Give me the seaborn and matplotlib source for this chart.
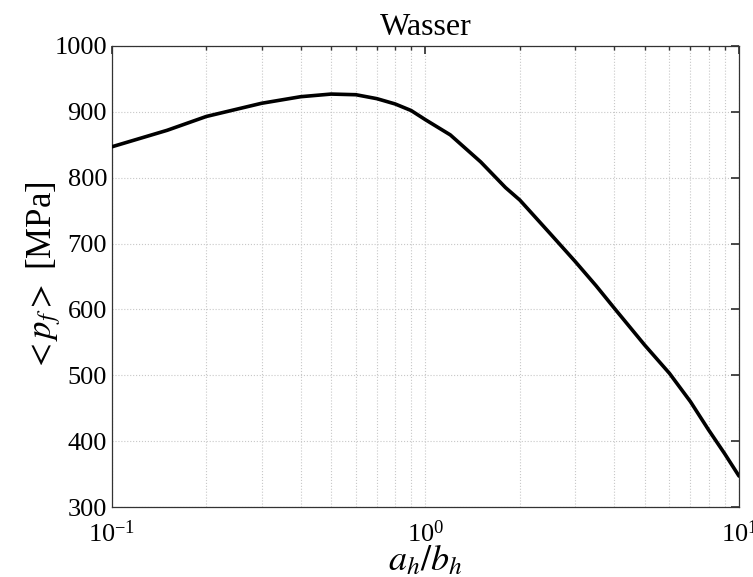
import matplotlib
matplotlib.use("Agg")
import matplotlib.pyplot as plt
import seaborn as sns
import pandas as pd
from matplotlib.ticker import LogLocator, FixedLocator, NullFormatter

# Aspect ratio a_h/b_h and mean pressure <p_f> in MPa
ratio = [0.1, 0.15, 0.2, 0.3, 0.4, 0.5, 0.6, 0.7, 0.8, 0.9, 1.0,
         1.2, 1.5, 1.8, 2.0, 2.5, 3.0, 3.5, 4.0, 5.0, 6.0, 7.0, 8.0, 9.0, 10.0]
pressure = [847, 872, 893, 913, 923, 927, 926, 920, 912, 902, 888,
            865, 824, 785, 766, 715, 673, 636, 602, 546, 503, 460, 417, 381, 347]

y_ticks = [300, 400, 500, 600, 700, 800, 900, 1000]

sns.set_theme(style="white")
plt.rcParams["font.family"] = ["Liberation Serif", "DejaVu Serif"]
plt.rcParams["mathtext.fontset"] = "stix"

df = pd.DataFrame({"ratio": ratio, "pressure": pressure})

fig = plt.figure(figsize=(7.53, 5.77), dpi=100)
ax = fig.add_axes([0.1487, 0.1213, 0.8327, 0.7990])

sns.lineplot(data=df, x="ratio", y="pressure", ax=ax, color="black",
             linewidth=2.6, zorder=3)

ax.set_xscale("log")
ax.set_xlim(0.1, 10)
ax.set_ylim(300, 1000)
ax.yaxis.set_major_locator(FixedLocator(y_ticks))
ax.xaxis.set_major_locator(LogLocator(base=10, numticks=10))
ax.xaxis.set_minor_locator(LogLocator(base=10, subs=range(2, 10), numticks=20))
ax.xaxis.set_minor_formatter(NullFormatter())

ax.grid(True, which="major", axis="both", color="#c8c8c8", linestyle=":", linewidth=0.8)
ax.grid(True, which="minor", axis="x", color="#c8c8c8", linestyle=":", linewidth=0.8)

for s in ax.spines.values():
    s.set_color("#333333")
    s.set_linewidth(0.9)

ax.tick_params(axis="both", which="both", direction="in", top=True, right=True,
               colors="#333333", labelcolor="black")
ax.tick_params(axis="both", which="major", length=6, labelsize=19)
ax.tick_params(axis="x", which="minor", length=3)
ax.tick_params(axis="x", which="major", pad=10)

ax.set_title("Wasser", fontsize=23, pad=8, color="black")
ax.set_xlabel(r"$a_h/b_h$", fontsize=26, labelpad=-2, color="black")
ax.set_ylabel(r"$<p_f>$ [MPa]", fontsize=25, labelpad=-6, color="black")

fig.savefig("out.png", dpi=100, facecolor="white")
